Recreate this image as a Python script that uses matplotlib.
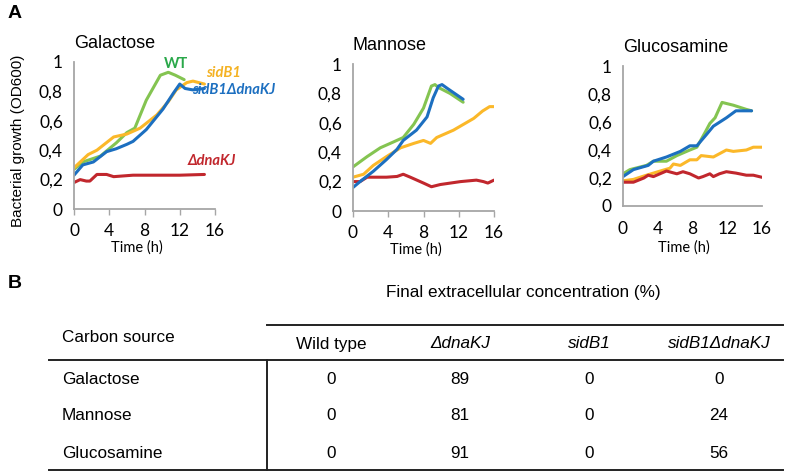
import matplotlib
matplotlib.use("Agg")
import matplotlib.pyplot as plt
from matplotlib.lines import Line2D

W, H = 787, 475

# ---------------- data (panel A) ----------------
gal_wt_t = [0, 1, 3, 4.8, 6, 6.9, 8.2, 9.8, 10.7, 11.5, 12.5]
gal_wt_y = [0.27, 0.32, 0.36, 0.45, 0.52, 0.55, 0.74, 0.91, 0.93, 0.91, 0.88]
gal_sid_t = [0, 1.6, 2.6, 4.5, 6, 7.5, 9.4, 10.7, 11.6, 12.8, 13.5, 14.8]
gal_sid_y = [0.28, 0.37, 0.40, 0.49, 0.51, 0.55, 0.64, 0.73, 0.81, 0.86, 0.87, 0.85]
gal_dbl_t = [0, 1, 2.2, 3.7, 4.8, 6, 6.7, 8.2, 10.1, 11.3, 12, 12.6, 13.5, 14.8]
gal_dbl_y = [0.23, 0.30, 0.32, 0.39, 0.41, 0.44, 0.46, 0.54, 0.68, 0.79, 0.85, 0.82, 0.81, 0.82]
gal_dk_t = [0, 0.7, 1.4, 1.8, 2.6, 3.7, 4.5, 6.7, 10.5, 12, 14.8]
gal_dk_y = [0.18, 0.20, 0.19, 0.19, 0.235, 0.235, 0.22, 0.23, 0.23, 0.23, 0.235]

man_wt_t = [0, 1.6, 3.1, 4.6, 5.7, 6.9, 8, 8.9, 9.3, 9.7, 11, 12.5]
man_wt_y = [0.30, 0.37, 0.43, 0.47, 0.50, 0.59, 0.70, 0.85, 0.86, 0.84, 0.80, 0.74]
man_sid_t = [0, 1.2, 2.3, 3.8, 5.4, 6.9, 8, 8.8, 9.5, 11.4, 13.7, 14.7, 15.5, 16]
man_sid_y = [0.23, 0.25, 0.31, 0.37, 0.43, 0.46, 0.48, 0.46, 0.50, 0.55, 0.63, 0.68, 0.71, 0.71]
man_dbl_t = [0, 0.8, 2.3, 3.8, 5, 5.7, 7.2, 8.4, 9.1, 9.7, 10.1, 10.8, 12.5]
man_dbl_y = [0.16, 0.20, 0.27, 0.35, 0.42, 0.48, 0.55, 0.64, 0.77, 0.85, 0.86, 0.83, 0.76]
man_dk_t = [0, 0.8, 1.6, 3.8, 5, 5.7, 6.5, 8, 8.9, 9.9, 12.2, 14, 14.8, 15.3, 16]
man_dk_y = [0.20, 0.20, 0.23, 0.23, 0.235, 0.25, 0.23, 0.19, 0.165, 0.18, 0.20, 0.21, 0.20, 0.19, 0.21]

glu_wt_t = [0, 0.8, 2.7, 3.5, 5, 6.2, 7.7, 8.5, 9.4, 10, 10.6, 11.4, 12.7, 14.2, 14.8]
glu_wt_y = [0.23, 0.26, 0.29, 0.32, 0.32, 0.36, 0.40, 0.42, 0.52, 0.59, 0.63, 0.74, 0.72, 0.69, 0.68]
glu_sid_t = [0, 1.2, 2.7, 4.3, 5.4, 5.8, 6.6, 7.7, 8.5, 9, 10.4, 11.9, 12.7, 14.2, 15, 16]
glu_sid_y = [0.18, 0.19, 0.22, 0.25, 0.27, 0.30, 0.29, 0.33, 0.33, 0.36, 0.35, 0.40, 0.39, 0.40, 0.42, 0.42]
glu_dbl_t = [0, 1.2, 2.9, 3.5, 5, 6.6, 7.7, 8.5, 9.6, 10.4, 11.9, 13, 13.8, 14.8]
glu_dbl_y = [0.21, 0.26, 0.29, 0.32, 0.35, 0.39, 0.43, 0.43, 0.51, 0.57, 0.63, 0.68, 0.68, 0.68]
glu_dk_t = [0, 1.2, 2.4, 2.9, 3.5, 5, 6.2, 6.9, 7.7, 8.7, 9.2, 10, 10.4, 11.1, 11.9, 13, 14.2, 15, 16]
glu_dk_y = [0.17, 0.17, 0.20, 0.22, 0.21, 0.25, 0.23, 0.245, 0.23, 0.20, 0.21, 0.23, 0.21, 0.23, 0.245, 0.235, 0.22, 0.22, 0.205]

panel_titles = ["Galactose", "Mannose", "Glucosamine"]
x_ticks = [0, 4, 8, 12, 16]
y_ticks = [0, 0.2, 0.4, 0.6, 0.8, 1]
y_tick_labels = ["0", "0,2", "0,4", "0,6", "0,8", "1"]

# ---------------- data (panel B) ----------------
carbon_sources = ["Galactose", "Mannose", "Glucosamine"]
strain_labels = ["Wild type", "\u0394dnaKJ", "sidB1", "sidB1\u0394dnaKJ"]
conc_wild_type = [0, 0, 0]
conc_dnakj = [89, 81, 91]
conc_sidb1 = [0, 0, 0]
conc_sidb1_dnakj = [0, 24, 56]

C_GREEN = "#84c451"
C_ORANGE = "#fbb829"
C_BLUE = "#1c6fc0"
C_RED = "#c1272d"
C_AXIS = "#a6a6a6"

plt.rcParams["font.family"] = ["Liberation Sans", "DejaVu Sans"]

fig = plt.figure(figsize=(W / 100, H / 100), dpi=100)


def fx(px):
    return px / W


def fy(py):
    return 1 - py / H


def make_axes(x0, x1, y0, y1):
    # x0/x1 pixel of t=0/t=16 ; y0/y1 pixel of value 0/1
    return fig.add_axes([fx(x0), fy(y0), (x1 - x0) / W, (y0 - y1) / H])


panels = [
    (make_axes(74, 215, 209, 62),
     [(gal_wt_t, gal_wt_y, C_GREEN), (gal_sid_t, gal_sid_y, C_ORANGE),
      (gal_dbl_t, gal_dbl_y, C_BLUE), (gal_dk_t, gal_dk_y, C_RED)]),
    (make_axes(353, 494, 211, 64),
     [(man_wt_t, man_wt_y, C_GREEN), (man_sid_t, man_sid_y, C_ORANGE),
      (man_dk_t, man_dk_y, C_RED), (man_dbl_t, man_dbl_y, C_BLUE)]),
    (make_axes(623, 762, 206, 66),
     [(glu_wt_t, glu_wt_y, C_GREEN), (glu_sid_t, glu_sid_y, C_ORANGE),
      (glu_dk_t, glu_dk_y, C_RED), (glu_dbl_t, glu_dbl_y, C_BLUE)]),
]
x_tick_len = [4, 4, 0]
x_tick_pad = [6.0, 6.0, 10.5]

tick_font = "Lato"
for i, (ax, series) in enumerate(panels):
    for t, y, c in series:
        ax.plot(t, y, color=c, lw=2.2, solid_capstyle="round", solid_joinstyle="round")
    ax.set_xlim(0, 16)
    ax.set_ylim(0, 1)
    ax.set_xticks(x_ticks)
    ax.set_xticklabels([str(v) for v in x_ticks], fontsize=12.5, fontfamily=tick_font)
    ax.set_yticks(y_ticks)
    ax.set_yticklabels(y_tick_labels, fontsize=12.5, fontfamily=tick_font)
    for s in ["top", "right"]:
        ax.spines[s].set_visible(False)
    for s in ["left", "bottom"]:
        ax.spines[s].set_color(C_AXIS)
        ax.spines[s].set_linewidth(1.3)
    ax.tick_params(axis="x", length=x_tick_len[i], width=1.0, color=C_AXIS,
                   pad=x_tick_pad[i], direction="out")
    ax.tick_params(axis="y", length=0, pad=8)
    ax.patch.set_alpha(0)
    ax.set_title(panel_titles[i], loc="left", fontsize=13, pad=10, x=0.0)

# x labels
xl_kw = dict(fontsize=10.5, fontfamily=tick_font, ha="center", va="center")
fig.text(fx(137), fy(247.5), "Time (h)", **xl_kw)
fig.text(fx(416), fy(250), "Time (h)", **xl_kw)
fig.text(fx(684), fy(248), "Time (h)", **xl_kw)

# y label
fig.text(fx(18), fy(141), "Bacterial growth (OD600)", rotation=90, fontsize=11,
         ha="center", va="center")

# series labels in Galactose panel
lab_kw = dict(fontsize=10.5, fontweight="bold", fontstyle="italic", fontfamily=["Lato", "DejaVu Sans"],
              ha="left", va="center")
fig.text(fx(176), fy(64), "WT", color="#2aa84a", fontsize=10.5, fontweight="bold",
         fontfamily=["Lato", "DejaVu Sans"], ha="center", va="center")
fig.text(fx(206), fy(73), "sidB1", color="#f4b223", **lab_kw)
fig.text(fx(192), fy(90), "sidB1\u0394dnaKJ", color=C_BLUE, **lab_kw)
fig.text(fx(188), fy(161), "\u0394dnaKJ", color=C_RED, **lab_kw)

# panel letters
fig.text(fx(8), fy(13), "A", fontsize=14, fontweight="bold", ha="left", va="center")
fig.text(fx(8), fy(283), "B", fontsize=14, fontweight="bold", ha="left", va="center")


# ---------------- table (panel B) ----------------
def hline(x0, x1, y, lw=1.4):
    fig.add_artist(Line2D([fx(x0), fx(x1)], [fy(y), fy(y)], color="#222222", lw=lw))


def vline(x, y0, y1, lw=1.4):
    fig.add_artist(Line2D([fx(x), fx(x)], [fy(y0), fy(y1)], color="#222222", lw=lw))


hline(267, 783, 325)
hline(49, 783, 360)
hline(49, 783, 470)
vline(267, 360, 470)

TFS = 12.3
fig.text(fx(523), fy(292), "Final extracellular concentration (%)", fontsize=TFS, ha="center", va="center")
fig.text(fx(62), fy(337), "Carbon source", fontsize=TFS, ha="left", va="center")

col_x = [331, 460, 589, 719]
header_styles = ["normal", "italic", "italic", "italic"]
for cx, txt, st in zip(col_x, strain_labels, header_styles):
    fig.text(fx(cx), fy(344), txt, fontsize=TFS, fontstyle=st, ha="center", va="center")

row_y = [379, 416, 453]
columns = [conc_wild_type, conc_dnakj, conc_sidb1, conc_sidb1_dnakj]
for r, (src, ry) in enumerate(zip(carbon_sources, row_y)):
    fig.text(fx(62), fy(ry), src, fontsize=TFS, ha="left", va="center")
    for cx, col in zip(col_x, columns):
        fig.text(fx(cx), fy(ry), str(col[r]), fontsize=TFS, ha="center", va="center")

fig.savefig("out.png", dpi=100)
